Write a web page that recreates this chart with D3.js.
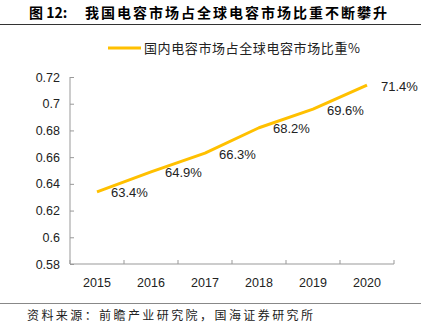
<!DOCTYPE html>
<html><head><meta charset="utf-8">
<script src="https://cdn.jsdelivr.net/npm/d3@7"></script>
<style>body{margin:0;background:#fff}svg{display:block}</style>
</head><body>
<script>
const categories = ["2015","2016","2017","2018","2019","2020"];
const values = [0.634, 0.649, 0.663, 0.682, 0.696, 0.714];
const valueLabels = ["63.4%","64.9%","66.3%","68.2%","69.6%","71.4%"];
const yTicks = [0.58,0.6,0.62,0.64,0.66,0.68,0.7,0.72];
const yTickLabels = ["0.58","0.6","0.62","0.64","0.66","0.68","0.7","0.72"];
const seriesName = "国内电容市场占全球电容市场比重%";
const titlePrefix = "图 12:";
const title = "我国电容市场占全球电容市场比重不断攀升";
const source = "资料来源：前瞻产业研究院，国海证券研究所";

const W = 432, H = 330;
const svg = d3.select("body").append("svg").attr("width", W).attr("height", H);
const cjk = "'Noto Sans CJK SC', sans-serif";
const lat = "'Liberation Sans', Arial, sans-serif";

// title
svg.append("text").attr("x", 29).attr("y", 18).attr("font-family", cjk)
  .attr("font-size", 14).attr("font-weight", "bold").attr("fill", "#000").text(titlePrefix);
svg.append("text").attr("x", 85).attr("y", 18).attr("font-family", cjk)
  .attr("font-size", 14).attr("font-weight", "bold").attr("fill", "#000")
  .attr("textLength", 302).attr("lengthAdjust", "spacing").text(title);
svg.append("line").attr("x1", 0).attr("x2", 421).attr("y1", 24.5).attr("y2", 24.5)
  .attr("stroke", "#333").attr("stroke-width", 1);

// legend
svg.append("line").attr("x1", 108).attr("x2", 141).attr("y1", 48).attr("y2", 48)
  .attr("stroke", "#FFC000").attr("stroke-width", 3);
svg.append("text").attr("x", 144).attr("y", 52.5).attr("font-family", cjk)
  .attr("font-size", 13).attr("fill", "#222")
  .attr("textLength", 216).attr("lengthAdjust", "spacing").text(seriesName);

const x = d3.scaleBand().domain(categories).range([70, 394]);
const y = d3.scaleLinear().domain([0.58, 0.72]).range([264, 77]);

const yAxis = svg.append("g").attr("transform", "translate(70,0)")
  .call(d3.axisRight(y).tickValues(yTicks).tickSize(4).tickFormat((d,i)=>""));
yAxis.select(".domain").attr("stroke", "#999").attr("d", "M0,77V264");
yAxis.selectAll(".tick line").attr("stroke", "#999");
svg.append("g").selectAll("text").data(yTicks).join("text")
  .attr("x", 60).attr("y", d => y(d) + 4.5).attr("text-anchor", "end")
  .attr("font-family", lat).attr("font-size", 12.5).attr("fill", "#222")
  .text((d,i) => yTickLabels[i]);

const xAxis = svg.append("g").attr("transform", "translate(0,264)")
  .call(d3.axisTop(x).tickSize(0).tickFormat(""));
xAxis.select(".domain").attr("stroke", "#999").attr("d", "M70,0H394");
const bounds = categories.map(c => x(c)).concat([x.range()[1]]);
svg.append("g").selectAll("line").data(bounds).join("line")
  .attr("x1", d => d).attr("x2", d => d).attr("y1", 260).attr("y2", 264)
  .attr("stroke", "#999");
svg.append("g").selectAll("text").data(categories).join("text")
  .attr("x", d => x(d) + x.bandwidth()/2).attr("y", 286.5).attr("text-anchor", "middle")
  .attr("font-family", lat).attr("font-size", 12.5).attr("fill", "#222").text(d => d);

// line
const cx = d => x(d) + x.bandwidth()/2;
svg.append("path").datum(values)
  .attr("d", d3.line().x((d,i) => cx(categories[i])).y(d => y(d)))
  .attr("fill", "none").attr("stroke", "#FFC000").attr("stroke-width", 3)
  .attr("stroke-linejoin", "round");

svg.append("g").selectAll("text").data(values).join("text")
  .attr("x", (d,i) => cx(categories[i]) + 14).attr("y", d => y(d) + 5.5)
  .attr("font-family", lat).attr("font-size", 13).attr("fill", "#222")
  .text((d,i) => valueLabels[i]);

// footer
svg.append("line").attr("x1", 0).attr("x2", 421).attr("y1", 303.5).attr("y2", 303.5)
  .attr("stroke", "#888").attr("stroke-width", 1);
svg.append("text").attr("x", 27).attr("y", 319.5).attr("font-family", cjk)
  .attr("font-size", 12).attr("fill", "#222")
  .attr("textLength", 286).attr("lengthAdjust", "spacing").text(source);
</script>
</body></html>
